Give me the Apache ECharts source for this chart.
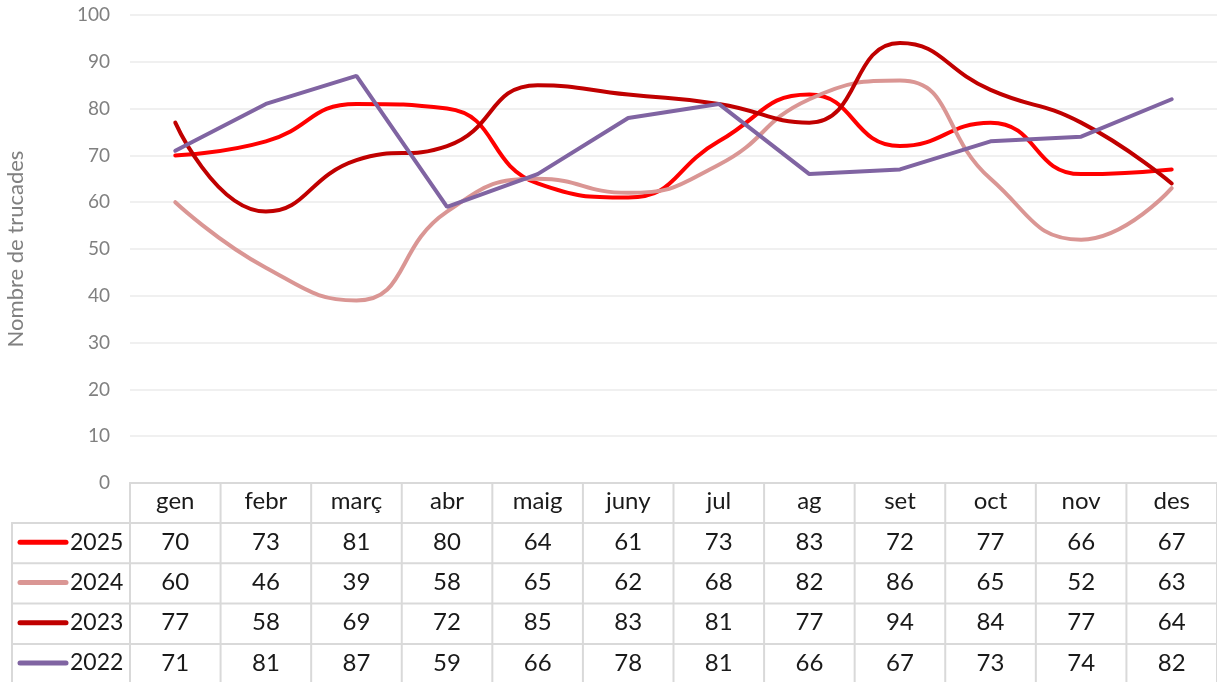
<!DOCTYPE html>
<html>
<head>
<meta charset="utf-8">
<script src="https://cdn.jsdelivr.net/npm/echarts@6/dist/echarts.min.js"></script>
<style>
  html, body { margin: 0; padding: 0; background: #fff; }
  #chart { width: 1217px; height: 682px; }
</style>
</head>
<body>
<div id="chart"></div>
<script>
// dades
const months = ['gen', 'febr', 'març', 'abr', 'maig', 'juny', 'jul', 'ag', 'set', 'oct', 'nov', 'des'];
const years = ['2025', '2024', '2023', '2022'];
const v2025 = [70, 73, 81, 80, 64, 61, 73, 83, 72, 77, 66, 67];
const v2024 = [60, 46, 39, 58, 65, 62, 68, 82, 86, 65, 52, 63];
const v2023 = [77, 58, 69, 72, 85, 83, 81, 77, 94, 84, 77, 64];
const v2022 = [71, 81, 87, 59, 66, 78, 81, 66, 67, 73, 74, 82];
const yMin = 0, yMax = 100, yStep = 10;

const values = [v2025, v2024, v2023, v2022];
const colors = ['#ff0000', '#da9694', '#c00000', '#8064a2'];
const smooth = [true, true, true, false];
const font = 'Lato, "Open Sans", sans-serif';
const gridCol = '#d9d9d9';
const txtCol = '#1a1a1a';

const chart = echarts.init(document.getElementById('chart'));
chart.setOption({
  animation: false,
  backgroundColor: '#fff',
  textStyle: { fontFamily: font },
  grid: { left: 130, right: 0, top: 15, bottom: 199, containLabel: false, outerBoundsMode: 'none' },
  xAxis: {
    type: 'category',
    data: months,
    boundaryGap: true,
    axisLine: { lineStyle: { color: gridCol, width: 2 } },
    axisTick: { show: false },
    axisLabel: { fontSize: 24, color: txtCol, margin: 6, interval: 0 }
  },
  yAxis: {
    type: 'value',
    min: yMin,
    max: yMax,
    interval: yStep,
    name: 'Nombre de trucades',
    nameLocation: 'middle',
    nameGap: 103,
    nameTextStyle: { fontSize: 22, color: '#808080' },
    axisLine: { show: false },
    axisTick: { show: false },
    axisLabel: { fontSize: 19, color: '#808080', margin: 20 },
    splitLine: { lineStyle: { color: '#ebebeb', width: 1.5 } }
  },
  series: years.map((y, i) => ({
    name: y,
    type: 'line',
    data: values[i],
    smooth: smooth[i] ? 0.5 : false,
    showSymbol: false,
    color: colors[i],
    lineStyle: { width: 4, color: colors[i], cap: 'round' }
  }))
});

// taula de dades sota el gràfic
const centers = months.map((m, j) => chart.convertToPixel({ xAxisIndex: 0 }, j));
const half = (centers[1] - centers[0]) / 2;
const axisY = chart.convertToPixel({ yAxisIndex: 0 }, yMin);
const headerH = 40, rowH = 40.3;
const tableLeft = 12, tableRight = 1217, tableBottom = 682;
const elements = [];
const line = (x1, y1, x2, y2, stroke, w) => elements.push({
  type: 'line', silent: true,
  shape: { x1, y1, x2, y2 },
  style: { stroke: stroke || gridCol, lineWidth: w || 2, lineCap: 'round' }
});

line(tableLeft, axisY + headerH, tableLeft, tableBottom);
for (let j = 0; j <= months.length; j++) {
  const x = centers[0] - half + j * 2 * half;
  line(x, axisY, x, tableBottom);
}
for (let r = 0; r < years.length; r++) {
  const y = axisY + headerH + r * rowH;
  line(tableLeft, y, tableRight, y);
}
values.forEach((arr, r) => {
  const cy = axisY + headerH + r * rowH + rowH / 2 - 1;
  // clau de la llegenda
  line(20, cy, 66, cy, colors[r], 5);
  elements.push({
    type: 'text', silent: true,
    x: 70, y: cy,
    style: {
      text: years[r], fill: txtCol, fontSize: 23, fontFamily: font,
      align: 'left', verticalAlign: 'middle'
    }
  });
  arr.forEach((v, j) => {
    elements.push({
      type: 'text', silent: true,
      x: centers[j], y: cy,
      style: {
        text: String(v), fill: txtCol, fontSize: 24, fontFamily: font,
        align: 'center', verticalAlign: 'middle'
      }
    });
  });
});
chart.setOption({ graphic: elements });
</script>
</body>
</html>
